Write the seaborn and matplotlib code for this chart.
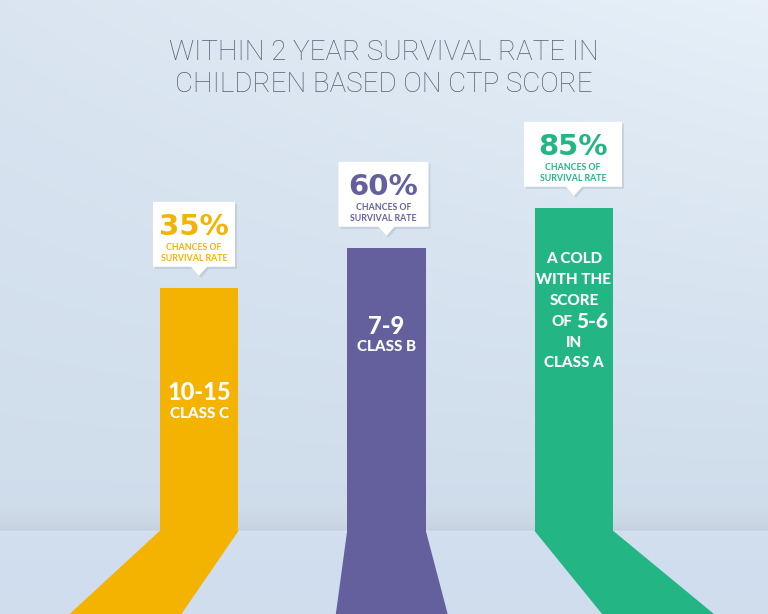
import numpy as np
import pandas as pd
import seaborn as sns
import matplotlib.pyplot as plt
from matplotlib.patches import Polygon

# chart data
classes = ["CLASS C", "CLASS B", "CLASS A"]
scores = ["10-15", "7-9", "5-6"]
survival = [35, 60, 85]
colors = ["#f4b300", "#63609d", "#23b684"]
title_lines = ["WITHIN 2 YEAR SURVIVAL RATE IN", "CHILDREN BASED ON CTP SCORE"]
callout_text = ["CHANCES OF", "SURVIVAL RATE"]
green_lines = ["A COLD", "WITH THE", "SCORE", "OF", "IN", "CLASS A"]

PLINTH = 117      # bars stand on a plinth below the value scale
PX_Y = 1.6        # pixels per value unit
PX_X = 187.5      # pixels per category step
FLOOR_PX = 531    # floor line, pixels from top

BOLD = ["Lato", "DejaVu Sans"]
WIDE = ["DejaVu Sans"]


def py(p):
    # pixel row (from top) -> data y
    return (FLOOR_PX - p) / PX_Y


def make_background(h=614, w=768):
    t = np.linspace(0, 1, h)
    s = np.linspace(0, 1, w)[:, None]
    top = np.array([0.855, 0.898, 0.945]) * (1 - s) + np.array([0.905, 0.943, 0.975]) * s
    mid = np.array([0.815, 0.866, 0.922])
    band = np.array([0.775, 0.822, 0.872])
    floor_c = np.array([0.818, 0.872, 0.935])
    img = np.zeros((h, w, 3))
    f = FLOOR_PX / h
    for i in range(h):
        r = t[i]
        if r < 0.80:
            k = (r / 0.80) ** 0.9
            img[i] = top * (1 - k) + mid * k
        elif r < f:
            k = ((r - 0.80) / (f - 0.80)) ** 2.2
            img[i] = mid * (1 - k) + band * k
        else:
            k = (r - f) / (1 - f)
            img[i] = floor_c * (1 - 0.4 * k) + np.array([0.805, 0.862, 0.93]) * 0.4 * k
    return np.clip(img, 0, 1)


df = pd.DataFrame({"cls": classes, "rate": survival})
df["height"] = df["rate"] + PLINTH

fig = plt.figure(figsize=(7.68, 6.14), dpi=100)
ax = fig.add_axes([0, 0, 1, 1])

sns.barplot(data=df, x="cls", y="height", hue="cls", palette=colors,
            saturation=1, width=0.42, legend=False, ax=ax, zorder=3)

xlim = (-199 / PX_X, (768 - 199) / PX_X)
ylim = (py(614), py(0))
ax.imshow(make_background(), extent=(*xlim, *ylim), aspect="auto", zorder=0)
ax.axhline(0, color="#d8e3ee", lw=1, zorder=1)

# perspective legs on the floor
vanish = (374 - 199) / PX_X
spread = 1.42
for bar, col in zip(ax.patches, colors):
    x0, x1 = bar.get_x(), bar.get_x() + bar.get_width()
    b0 = vanish + (x0 - vanish) * spread
    b1 = vanish + (x1 - vanish) * spread
    ax.add_patch(Polygon([(x0, 0), (x1, 0), (b1, ylim[0]), (b0, ylim[0])],
                         closed=True, color=col, lw=0, zorder=2.5))

# callouts above bars
for i, (bar, col, val) in enumerate(zip(ax.patches, colors, survival)):
    cx = bar.get_x() + bar.get_width() / 2
    top = bar.get_height()
    tip = top + 12 / PX_Y
    bb = top + 21 / PX_Y
    bt = bb + 65 / PX_Y
    bx = cx - (5 - 2 * i) / PX_X
    hw = (82 + 8 * i) / 2 / PX_X
    pw = 8 / PX_X
    pts = [(bx - hw, bb), (cx - pw, bb), (cx, tip), (cx + pw, bb),
           (bx + hw, bb), (bx + hw, bt), (bx - hw, bt)]
    shadow = [(x + 2 / PX_X, y - 2 / PX_Y) for x, y in pts]
    ax.add_patch(Polygon(shadow, closed=True, color="#8896a6", alpha=0.25,
                         lw=0, zorder=4))
    ax.add_patch(Polygon(pts, closed=True, color="white", lw=0, zorder=5))
    ax.text(bx, bt - 25 / PX_Y, f"{val}%", ha="center", va="center",
            color=col, fontsize=21, fontweight="bold", family=WIDE, zorder=6)
    ax.text(bx, bt - 46 / PX_Y, callout_text[0], ha="center", va="center",
            color=col, fontsize=6.3, fontweight="bold", family=BOLD, zorder=6)
    ax.text(bx, bt - 57 / PX_Y, callout_text[1], ha="center", va="center",
            color=col, fontsize=6.3, fontweight="bold", family=BOLD, zorder=6)

# labels inside bars
ax.text(0, py(393), scores[0], ha="center", va="center", color="white",
        fontsize=17, fontweight="black", family=BOLD, zorder=6)
ax.text(0, py(414), classes[0], ha="center", va="center", color="white",
        fontsize=11, fontweight="black", family=BOLD, zorder=6)
ax.text(1, py(327), scores[1], ha="center", va="center", color="white",
        fontsize=17, fontweight="black", family=BOLD, zorder=6)
ax.text(1, py(347), classes[1], ha="center", va="center", color="white",
        fontsize=11, fontweight="black", family=BOLD, zorder=6)

rows = [259, 280, 301, 321, 343, 363]
for line, r in zip(green_lines, rows):
    if line == "OF":
        ax.text(2 - 2 / PX_X, py(r + 1), line, ha="right", va="center",
                color="white", fontsize=11, fontweight="black", family=BOLD,
                zorder=6)
        ax.text(2 + 2 / PX_X, py(r), scores[2], ha="left", va="center",
                color="white", fontsize=15, fontweight="black", family=BOLD,
                zorder=6)
    else:
        ax.text(2, py(r), line, ha="center", va="center", color="white",
                fontsize=11, fontweight="black", family=BOLD, zorder=6)

# title
for line, r in zip(title_lines, [53, 84]):
    ax.text(xlim[0] + 384 / PX_X, py(r), line, ha="center", va="center",
            color="#596070", fontsize=20, fontweight="light",
            family=["Roboto", "DejaVu Sans"], zorder=6)

ax.set_xlim(*xlim)
ax.set_ylim(*ylim)
ax.axis("off")

fig.savefig("out.png", dpi=100)
